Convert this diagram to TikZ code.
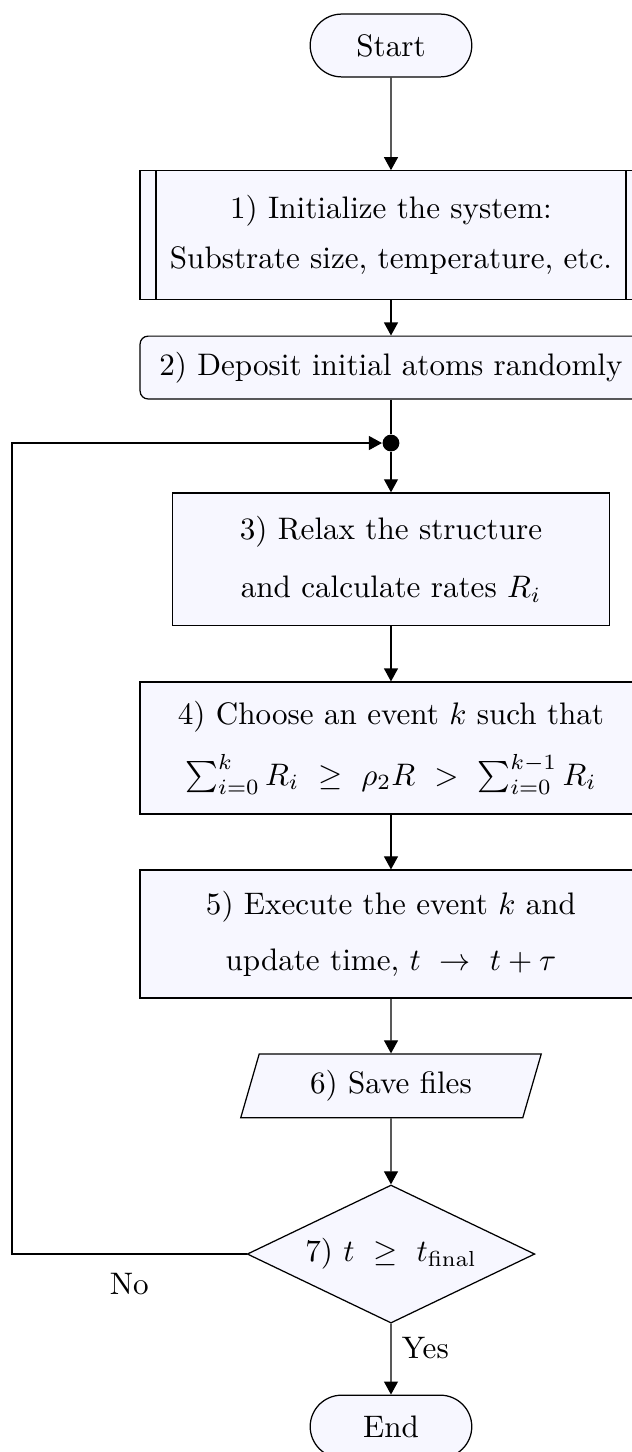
\documentclass[tikz,border=0pt]{standalone}
\usetikzlibrary{shapes.geometric,shapes.misc,arrows.meta}

\begin{document}
\begin{tikzpicture}[
    >={Triangle[width=4.5pt,length=4.2pt]},
    box/.style={draw, fill=blue!3, align=center, inner sep=0pt, minimum width=5.67cm},
    term/.style={draw, fill=blue!3, rounded rectangle, minimum width=2.06cm, minimum height=0.71cm},
    subproc/.style={box, path picture={
      \draw ([xshift=0.18cm]path picture bounding box.north west) -- ([xshift=0.18cm]path picture bounding box.south west)
            ([xshift=-0.18cm]path picture bounding box.north east) -- ([xshift=-0.18cm]path picture bounding box.south east);}},
    io/.style={draw, fill=blue!3, trapezium, trapezium left angle=70, trapezium right angle=110,
      trapezium stretches=true, minimum width=3.41cm, minimum height=0.72cm, inner sep=0pt},
    decide/.style={draw, fill=blue!3, diamond, aspect=2, inner sep=0pt, minimum width=3.25cm, minimum height=1.56cm}
  ]
  \useasboundingbox (-4.418,0) rectangle (2.723,-16.407);
  % Set up
  \node[term] (start) at (0,-0.514) {Start};
  \node[subproc, minimum height=1.45cm] (init) at (0,-2.655)
    {1) Initialize the system:\\[4pt] Substrate size, temperature, etc.};
  \node[box, rounded corners=0.9mm, minimum height=0.71cm] (depo) at (0,-4.153)
    {2) Deposit initial atoms randomly};
  \node[circle, fill, inner sep=0pt, minimum size=0.19cm] (join) at (0,-5.006) {};
  % Main loop
  \node[box, minimum width=4.93cm, minimum height=1.5cm] (relax) at (0,-6.32)
    {3) Relax the structure\\[6.5pt] and calculate rates $R_i$};
  \node[box, minimum height=1.49cm] (choose) at (0,-8.452)
    {4) Choose an event $k$ such that\\[6pt]
     $\sum_{i=0}^{k} R_i \ \geq\ \rho_2 R \ >\ \sum_{i=0}^{k-1} R_i$};
  \node[box, minimum height=1.446cm] (exec) at (0,-10.554)
    {5) Execute the event $k$ and\\[6pt] update time, $t \ \rightarrow\ t + \tau$};
  \node[io] (save) at (0,-12.27) {6) Save files};
  \node[decide] (check) at (0,-14.17) {7) $t \ \geq\ t_{\mathrm{final}}$};
  \node[term] (end) at (0,-16.12) {End};
  \coordinate (back) at (-4.283,-14.17);
  % Connectors
  \draw[->] (start) -- (init);
  \draw[->] (init) -- (depo);
  \draw (depo) -- (join);
  \foreach \a/\b in {join/relax, relax/choose, choose/exec, exec/save, save/check} {
    \draw[->] (\a) -- (\b);
  }
  \draw[->] (check) -- node[right, pos=0.35] {Yes} (end);
  \draw[->] (check.west) -- node[below=2.5pt] {No} (back) |- (join);
\end{tikzpicture}
\end{document}
